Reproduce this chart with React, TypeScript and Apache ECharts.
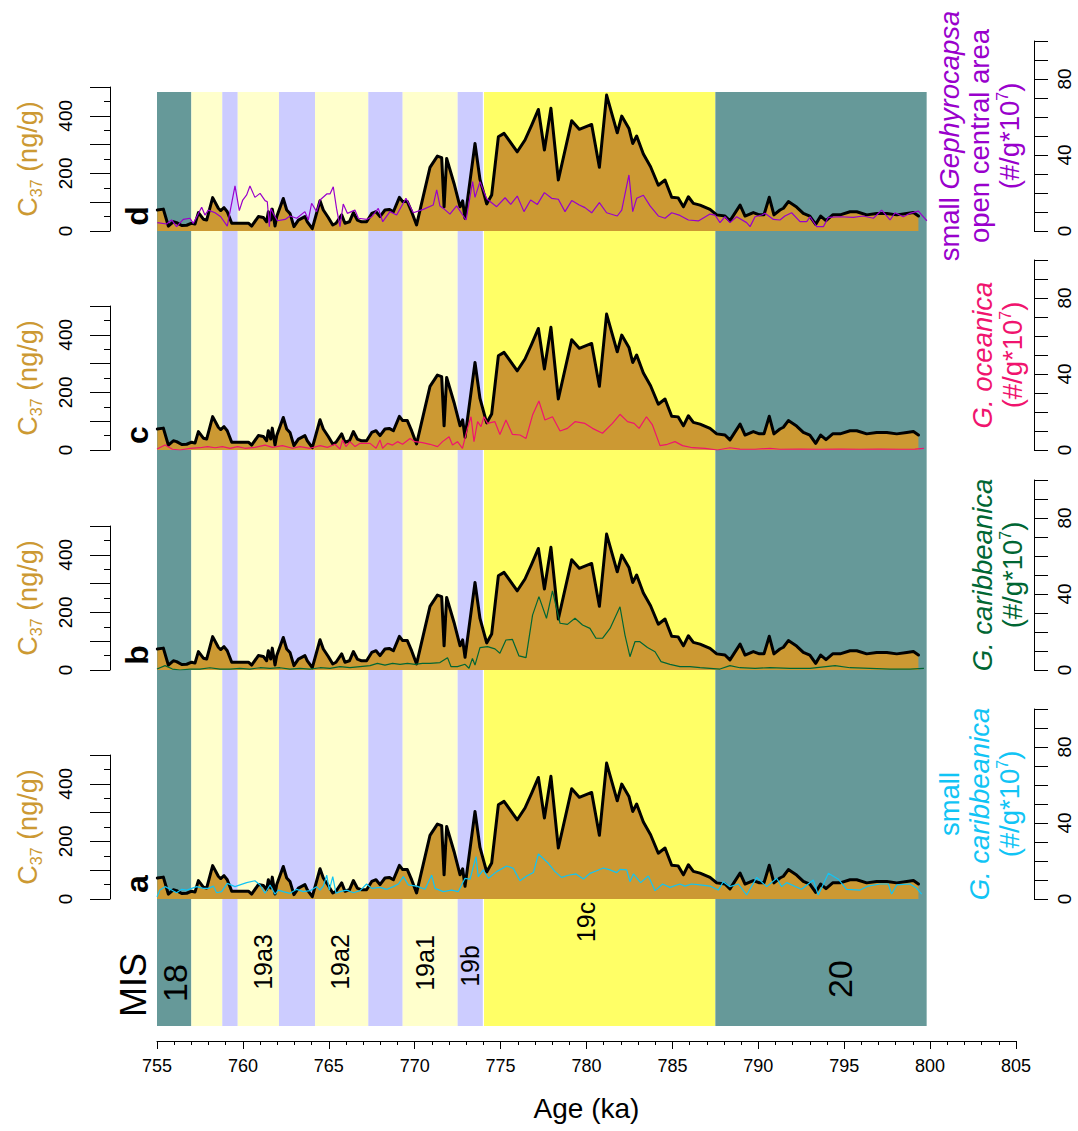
import React, { useEffect, useRef } from "react";
import * as echarts from "echarts";

const FONT = "Liberation Sans, Arial, Helvetica, sans-serif";

// C37 alkenone concentration (ng/g) vs age (ka)
const c37: [number, number][] = [
  [755.02,73],[755.37,76],[755.66,17],[755.95,32],[756.14,29],[756.44,19],[756.73,20],[757.02,27],[757.21,24],[757.41,64],[757.70,41],[757.89,38],[758.24,116],[758.57,79],[758.71,71],[758.90,81],[759.09,67],[759.35,27],[760.32,27],[760.51,17],[760.90,50],[761.19,47],[761.38,32],[761.48,67],[761.62,38],[761.71,76],[761.87,17],[761.97,50],[762.35,113],[762.55,73],[762.74,61],[762.97,15],[763.23,38],[763.61,50],[763.75,32],[764.04,8],[764.49,105],[764.68,73],[764.97,47],[765.23,21],[765.42,27],[765.75,56],[765.94,27],[766.20,32],[766.43,64],[766.66,38],[766.91,32],[767.20,32],[767.50,61],[767.75,67],[767.98,50],[768.27,73],[768.52,75],[768.76,67],[769.11,117],[769.30,102],[769.57,102],[769.82,67],[770.11,21],[770.89,221],[771.32,260],[771.57,255],[771.71,84],[771.86,252],[772.29,165],[772.64,84],[772.79,105],[772.93,44],[773.51,304],[773.80,179],[774.19,94],[774.48,125],[774.87,327],[775.20,339],[775.97,275],[776.42,316],[776.81,368],[777.20,422],[777.55,281],[777.93,426],[778.36,177],[779.14,383],[779.58,353],[780.30,370],[780.75,221],[781.17,472],[781.79,341],[782.05,399],[782.47,356],[782.69,304],[782.92,330],[783.31,267],[783.73,223],[784.18,159],[784.57,177],[784.96,117],[785.34,115],[785.64,84],[785.93,119],[786.22,96],[786.61,90],[787.19,75],[787.58,56],[788.06,52],[788.35,35],[788.94,90],[789.23,52],[789.71,64],[790.06,56],[790.33,56],[790.64,117],[790.91,56],[791.26,73],[791.46,79],[791.75,102],[792.23,83],[792.62,61],[793.00,52],[793.34,23],[793.63,52],[793.94,36],[794.33,56],[794.76,56],[795.34,67],[795.73,67],[796.31,56],[796.89,61],[797.48,61],[798.06,56],[798.64,61],[799.03,64],[799.32,52]
];

// small Gephyrocapsa open central area (#/g*10^7)
const gephyrocapsa: [number, number][] = [
  [755.02,4.4],[755.56,3.7],[755.85,5.8],[756.14,2.3],[756.53,6.1],[756.92,6.7],[757.11,4.0],[757.60,12.5],[757.79,8.4],[757.99,11],[758.38,9.6],[758.71,7.5],[759.09,2.6],[759.54,23.7],[759.79,10.7],[759.99,16.3],[760.22,19],[760.41,23.7],[760.70,17.7],[761.00,19.8],[761.29,16],[761.42,15.4],[761.54,2.3],[761.62,11.9],[761.81,8.4],[762.01,5.4],[762.46,6.1],[762.74,7.9],[763.13,6.7],[763.61,10.2],[763.81,5.8],[764.00,14.6],[764.29,10.2],[764.49,16.3],[764.88,19.5],[765.07,19.5],[765.26,23.3],[765.45,11.9],[765.65,2.3],[765.84,14.2],[766.08,9.3],[766.52,11],[766.72,6.7],[767.20,6.1],[767.50,7.5],[767.88,11.9],[768.14,4.9],[768.56,10.2],[768.95,8.4],[769.49,17.2],[769.92,9.6],[770.50,11.4],[771.08,13.7],[771.28,21.6],[771.47,13.2],[771.67,11.9],[772.05,8.9],[772.44,13.2],[772.99,5.8],[773.37,26],[773.51,17.7],[773.80,26],[774.19,17],[774.77,12.8],[775.26,17.5],[775.59,14],[775.97,18.4],[776.36,10.2],[776.75,16.3],[777.14,14],[777.55,20.2],[777.97,17.2],[778.36,16.7],[778.75,10.2],[779.14,16],[779.58,13.7],[779.91,12.3],[780.30,9.6],[780.75,14.9],[781.17,9.6],[781.79,7.9],[782.05,11],[782.47,29.5],[782.69,10.2],[782.92,17.2],[783.31,18.8],[783.70,13.2],[784.18,7.9],[784.57,6.7],[784.96,9.6],[785.44,8.2],[785.93,5.8],[786.51,5.3],[787.19,8.9],[787.48,8.4],[787.77,4.4],[788.06,7.5],[788.35,4.4],[788.74,7.5],[789.32,4.4],[789.52,2.3],[789.81,7.5],[790.20,8.4],[790.39,9.3],[790.88,6.1],[791.26,5.8],[791.55,7.9],[791.94,9.6],[792.43,4.9],[792.82,4.9],[793.01,7.5],[793.40,2.3],[793.79,2.3],[794.08,7.2],[794.76,7.5],[795.53,7.2],[796.11,7.9],[796.70,6.7],[797.18,11],[797.67,5.8],[797.96,9.6],[798.44,7.5],[798.83,9.3],[799.32,10.5],[799.81,5.4]
];

// G. oceanica (#/g*10^7)
const oceanica: [number, number][] = [
  [755.00,0.5],[755.47,2.6],[755.90,0.4],[756.34,0],[756.92,0.9],[757.50,1.2],[757.94,1.8],[758.38,1.2],[758.81,1.8],[759.25,0.9],[759.69,1.8],[760.12,0.9],[760.70,1.4],[761.29,2.6],[761.72,1.4],[762.30,2.3],[762.89,0.9],[763.32,1.8],[763.91,0.9],[764.49,2.3],[764.92,1.4],[765.36,3],[765.65,0.5],[765.80,5.3],[766.00,1.8],[766.23,4.4],[766.53,1.8],[766.82,3.5],[767.40,3.5],[767.75,0.9],[767.98,5.3],[768.13,0.9],[768.42,3.5],[768.71,2.6],[769.00,4.4],[769.29,3],[769.73,6.1],[770.02,4.4],[770.45,3.9],[770.89,3],[771.33,1.8],[771.62,4.4],[772.00,7],[772.20,2.6],[772.49,4.4],[772.78,0.9],[773.07,11.4],[773.28,17.5],[773.45,4.4],[773.66,14.9],[773.86,12.3],[774.03,17.5],[774.24,14],[774.67,14.9],[774.96,8.2],[775.31,15.8],[775.69,8.2],[776.13,7.9],[776.48,6.1],[776.86,18.4],[777.23,25.8],[777.58,15.8],[778.02,17.5],[778.46,10],[778.89,11.4],[779.33,14.9],[779.91,14],[780.35,11.4],[780.93,8.8],[781.51,14],[781.95,18.8],[782.39,14.9],[782.77,14],[783.06,11.4],[783.49,17.5],[783.84,13.2],[784.28,2.3],[784.71,3],[785.15,4.4],[785.59,2.3],[786.17,1.2],[786.90,0.9],[787.62,0],[788.35,1.2],[788.93,0.5],[789.81,0.4],[790.68,0.9],[791.26,0.4],[792.43,0.5],[793.59,0.4],[794.76,0.5],[795.92,0.4],[797.08,0.5],[798.25,0.4],[799.12,0.5],[799.64,0.9]
];

// G. caribbeanica (#/g*10^7)
const caribbeanica: [number, number][] = [
  [755.00,0.5],[755.47,2.3],[755.90,0.5],[756.34,0],[756.92,0.5],[757.50,0.5],[758.08,1.2],[758.67,0.5],[759.25,0.5],[759.83,0.9],[760.41,0.5],[761.00,1.2],[761.58,0.9],[762.16,1.2],[762.74,0.5],[763.32,0.9],[763.91,0.5],[764.49,1.2],[765.07,0.9],[765.65,1.8],[766.23,1.2],[766.82,1.8],[767.40,2.3],[767.83,3.5],[768.27,2.6],[768.71,3.5],[769.15,3],[769.58,3.5],[770.02,3],[770.45,3.5],[770.89,3.5],[771.47,3.9],[771.91,6.5],[772.11,1.8],[772.49,1.8],[772.93,3],[773.16,0.9],[773.36,6.1],[773.51,2.6],[773.80,11.8],[774.24,12.3],[774.67,11.1],[774.96,8.8],[775.31,15.8],[775.69,16.1],[776.07,7.4],[776.48,6.5],[776.86,28.9],[777.23,38.6],[777.67,27.2],[778.02,41.6],[778.46,24.6],[778.89,24],[779.33,27.2],[779.77,23.7],[780.20,21.9],[780.55,16.7],[780.93,16.7],[781.37,21.9],[781.95,33.3],[782.24,18.4],[782.53,7],[782.82,14.9],[783.11,14.9],[783.55,11.8],[783.99,9.6],[784.34,4.4],[784.86,3],[785.44,1.8],[786.02,1.8],[786.61,1.2],[787.19,0.9],[787.77,0.5],[788.35,2.3],[788.93,1.2],[789.81,0.9],[790.68,1.2],[791.85,0.9],[793.01,0.9],[794.47,2.3],[795.34,1.2],[796.51,0.9],[797.67,0.5],[798.84,0.5],[799.64,0.9]
];

// small G. caribbeanica (#/g*10^7)
const smallCaribbeanica: [number, number][] = [
  [755.0,1.2],[755.17,4.7],[755.47,6.5],[755.85,4.7],[756.14,3.3],[756.44,5.1],[756.73,4.7],[757.02,5.6],[757.31,6.5],[757.70,5.6],[757.99,5.6],[758.28,6.8],[758.47,3.3],[758.76,3.9],[759.09,8.2],[759.54,6.5],[759.83,7.4],[760.22,8.6],[760.70,9.6],[761.00,7.4],[761.29,3.0],[761.58,7.4],[761.87,2.5],[762.06,4.7],[762.35,3.9],[762.74,3.0],[763.13,5.1],[763.52,3.9],[763.91,4.4],[764.29,6.5],[764.49,4.7],[764.68,6.8],[764.88,12.6],[765.03,4.7],[765.23,11.8],[765.42,3.0],[765.65,3.9],[766.04,4.7],[766.43,3.3],[766.82,4.4],[767.20,7.9],[767.50,5.6],[767.98,6.1],[768.37,5.1],[768.76,6.5],[769.05,7.9],[769.34,11.8],[769.63,7.4],[770.11,6.8],[770.60,5.1],[770.99,12.6],[771.18,5.6],[771.67,3.9],[772.15,4.7],[772.54,3.9],[772.93,10.9],[773.22,10.4],[773.57,22.3],[773.70,11.8],[773.99,15.3],[774.29,10.9],[774.77,14.4],[775.35,17.4],[775.74,16.1],[776.13,9.6],[776.52,12.1],[776.91,13.9],[777.20,23.7],[777.78,18.8],[778.17,14.4],[778.55,11.4],[778.94,12.5],[779.39,13.2],[779.82,10.5],[780.20,13.5],[780.59,14.9],[780.98,16.3],[781.37,15.3],[781.76,13.9],[781.95,15.6],[782.34,15.3],[782.53,9.1],[782.73,13.2],[783.15,8.6],[783.60,12.1],[783.99,4.4],[784.43,7.9],[784.86,6.1],[785.44,7.9],[785.73,6.8],[786.12,7.9],[786.61,7.4],[787.19,6.8],[787.67,4.7],[787.96,9.1],[788.35,6.5],[788.84,7.9],[789.32,2.1],[789.91,11.4],[790.49,6.5],[791.07,10.9],[791.36,6.5],[791.65,8.6],[792.52,5.1],[793.20,10],[793.49,2.1],[794.08,13.5],[794.66,10.4],[795.14,5.1],[795.92,4.7],[796.40,6.8],[797.08,7.9],[797.57,7.9],[797.76,2.6],[798.06,7.4],[798.83,7.9],[799.22,5.6],[799.51,2.6]
];

// MIS background bands (ka)
const bandStarts = [755.0, 757.0, 758.8, 759.7, 762.1, 764.2, 767.3, 769.3, 772.5, 774.0, 787.5];
const bandEnds = [757.0, 758.8, 759.7, 762.1, 764.2, 767.3, 769.3, 772.5, 774.0, 787.5, 799.8];
const bandColors = ["#669999", "#FFFFCC", "#CCCCFF", "#FFFFCC", "#CCCCFF", "#FFFFCC", "#CCCCFF", "#FFFFCC", "#CCCCFF", "#FFFF66", "#669999"];

const misLabels = ["18", "19a3", "19a2", "19a1", "19b", "19c", "20"];

const TAN = "#CC9933";

type Panel = {
  letter: string;
  data: [number, number][];
  color: string;
  title: string;
};

const panels: Panel[] = [
  { letter: "d", data: gephyrocapsa, color: "#9900CC", title: "{n|small }{i|Gephyrocapsa}\n{n|open central area}\n{n|(#/g*10}{p|7}{n|)}" },
  { letter: "c", data: oceanica, color: "#F0146E", title: "{i|G. oceanica}\n{n|(#/g*10}{p|7}{n|)}" },
  { letter: "b", data: caribbeanica, color: "#006633", title: "{i|G. caribbeanica}\n{n|(#/g*10}{p|7}{n|)}" },
  { letter: "a", data: smallCaribbeanica, color: "#11C4F5", title: "{n|small}\n{i|G. caribbeanica}\n{n|(#/g*10}{p|7}{n|)}" },
];

export default function App() {
  const ref = useRef<HTMLDivElement>(null);

  useEffect(() => {
    if (!ref.current) return;
    const chart = echarts.init(ref.current, null, { renderer: "svg" });

    const zeros = [231, 450, 670, 899];
    const leftH = 144;
    const rightH = 190;
    const plotLeft = 157;
    const plotWidth = 859;

    const grids: any[] = [{ left: plotLeft, top: 92, width: plotWidth, height: 934 }];
    const xAxes: any[] = [
      {
        gridIndex: 0,
        type: "value",
        min: 755,
        max: 805,
        interval: 5,
        offset: 15,
        axisLine: { show: true, onZero: false, lineStyle: { color: "#000", width: 1 } },
        axisTick: { show: true, length: 8, lineStyle: { color: "#000" } },
        minorTick: { show: true, splitNumber: 5, length: 4, lineStyle: { color: "#000" } },
        axisLabel: { fontSize: 18, color: "#000", margin: 16, fontFamily: FONT },
        splitLine: { show: false },
        name: "Age (ka)",
        nameLocation: "middle",
        nameGap: 53,
        nameTextStyle: { fontSize: 28, color: "#000", fontFamily: FONT },
      },
    ];
    const yAxes: any[] = [{ gridIndex: 0, type: "value", min: 0, max: 1, show: false }];
    const series: any[] = [
      {
        type: "custom",
        xAxisIndex: 0,
        yAxisIndex: 0,
        z: 0,
        silent: true,
        data: bandStarts.map((s, i) => [s, bandEnds[i], i]),
        renderItem: (params: any, api: any) => {
          const p1 = api.coord([api.value(0), 1]);
          const p2 = api.coord([api.value(1), 0]);
          const idx = api.value(2);
          const children: any[] = [
            {
              type: "rect",
              shape: { x: p1[0], y: p1[1], width: p2[0] - p1[0], height: p2[1] - p1[1] },
              style: { fill: bandColors[idx] },
            },
          ];
          if (bandColors[idx] === "#FFFF66") {
            children.push({
              type: "line",
              shape: { x1: p1[0], y1: p1[1], x2: p1[0], y2: p2[1] },
              style: { stroke: "#fff", lineWidth: 1.2 },
            });
          }
          return { type: "group", children };
        },
      },
    ];
    const graphics: any[] = [];

    const textBase = {
      align: "center",
      verticalAlign: "middle",
      textAlign: "center",
      textVerticalAlign: "middle",
    };

    panels.forEach((p, i) => {
      const z = zeros[i];
      const gl = grids.length;
      grids.push({ left: plotLeft, width: plotWidth, top: z - leftH, height: leftH });
      grids.push({ left: plotLeft, width: plotWidth, top: z - rightH, height: rightH });
      xAxes.push({ gridIndex: gl, type: "value", min: 755, max: 805, show: false });
      xAxes.push({ gridIndex: gl + 1, type: "value", min: 755, max: 805, show: false });
      yAxes.push({
        gridIndex: gl,
        type: "value",
        position: "left",
        offset: 47,
        min: 0,
        max: 500,
        interval: 100,
        axisLine: { show: true, lineStyle: { color: "#000", width: 1 } },
        axisTick: { show: true, length: 20, lineStyle: { color: "#000" } },
        minorTick: { show: true, splitNumber: 2, length: 6, lineStyle: { color: "#000" } },
        axisLabel: {
          rotate: 90,
          margin: 35,
          fontSize: 19,
          color: "#000",
          fontFamily: FONT,
          formatter: (v: number) => (v % 200 === 0 ? String(v) : ""),
        },
        splitLine: { show: false },
      });
      yAxes.push({
        gridIndex: gl + 1,
        type: "value",
        position: "right",
        offset: 18,
        min: 0,
        max: 100,
        interval: 10,
        axisLine: { show: true, lineStyle: { color: "#000", width: 1 } },
        axisTick: { show: true, length: 14, lineStyle: { color: "#000" } },
        axisLabel: {
          rotate: 90,
          margin: 21,
          fontSize: 19,
          color: "#000",
          fontFamily: FONT,
          formatter: (v: number) => (v % 40 === 0 ? String(v) : ""),
        },
        splitLine: { show: false },
      });
      series.push({
        type: "line",
        xAxisIndex: gl,
        yAxisIndex: gl,
        data: c37,
        symbol: "none",
        z: 3,
        lineStyle: { color: "#000", width: 3, join: "round", cap: "round" },
        areaStyle: { color: TAN, opacity: 1 },
      });
      series.push({
        type: "line",
        xAxisIndex: gl + 1,
        yAxisIndex: gl + 1,
        data: p.data,
        symbol: "none",
        z: 4,
        lineStyle: { color: p.color, width: 1.2 },
      });

      // left axis title C37 (ng/g)
      graphics.push({
        type: "text",
        z: 100,
        x: 28,
        y: z - leftH / 2,
        rotation: Math.PI / 2,
        style: {
          ...textBase,
          text: "{c|C}{s|37}{c| (ng/g)}",
          rich: {
            c: { fontSize: 27, fontFamily: FONT, fill: TAN, color: TAN, lineHeight: 32, verticalAlign: "middle" },
            s: { fontSize: 16, fontFamily: FONT, fill: TAN, color: TAN, lineHeight: 16, verticalAlign: "bottom" },
          },
        },
      });
      // panel letter
      graphics.push({
        type: "text",
        z: 100,
        x: 137,
        y: z - 15,
        rotation: Math.PI / 2,
        style: {
          ...textBase,
          text: p.letter,
          fontSize: 32,
          fontWeight: "bold",
          fontFamily: FONT,
          fill: "#000",
        },
      });
      // right title
      const nLines = p.title.split("\n").length;
      const rich = {
        n: { fontSize: 27.5, fontFamily: FONT, fill: p.color, color: p.color, lineHeight: 30, verticalAlign: "middle" },
        i: { fontSize: 27.5, fontFamily: FONT, fontStyle: "italic", fill: p.color, color: p.color, lineHeight: 30, verticalAlign: "middle" },
        p: { fontSize: 16, fontFamily: FONT, fill: p.color, color: p.color, lineHeight: 14, verticalAlign: "top" },
      };
      graphics.push({
        type: "text",
        z: 100,
        x: nLines === 3 ? 979 : 997,
        y: z - rightH / 2,
        rotation: Math.PI / 2,
        style: { ...textBase, text: p.title, rich },
      });
    });

    // MIS labels
    const misPos = [
      [175, 983, 34],
      [263, 962, 25],
      [340, 962, 25],
      [425, 963, 25],
      [470, 966, 25],
      [586, 922, 25],
      [840, 979, 34],
    ];
    misLabels.forEach((t, k) => {
      graphics.push({
        type: "text",
        z: 100,
        x: misPos[k][0],
        y: misPos[k][1],
        rotation: Math.PI / 2,
        style: {
          ...textBase,
          text: t,
          fontSize: misPos[k][2],
          fontFamily: FONT,
          fill: "#000",
        },
      });
    });
    graphics.push({
      type: "text",
      z: 100,
      x: 133,
      y: 985,
      rotation: Math.PI / 2,
      style: { ...textBase, text: "MIS", fontSize: 36, fontFamily: FONT, fill: "#000" },
    });

    chart.setOption({
      animation: false,
      backgroundColor: "#fff",
      grid: grids,
      xAxis: xAxes,
      yAxis: yAxes,
      series,
      graphic: { elements: graphics },
    });

    return () => chart.dispose();
  }, []);

  return (
    <div
      ref={ref}
      style={{ position: "fixed", left: 0, top: 0, width: 1078, height: 1131 }}
    />
  );
}
